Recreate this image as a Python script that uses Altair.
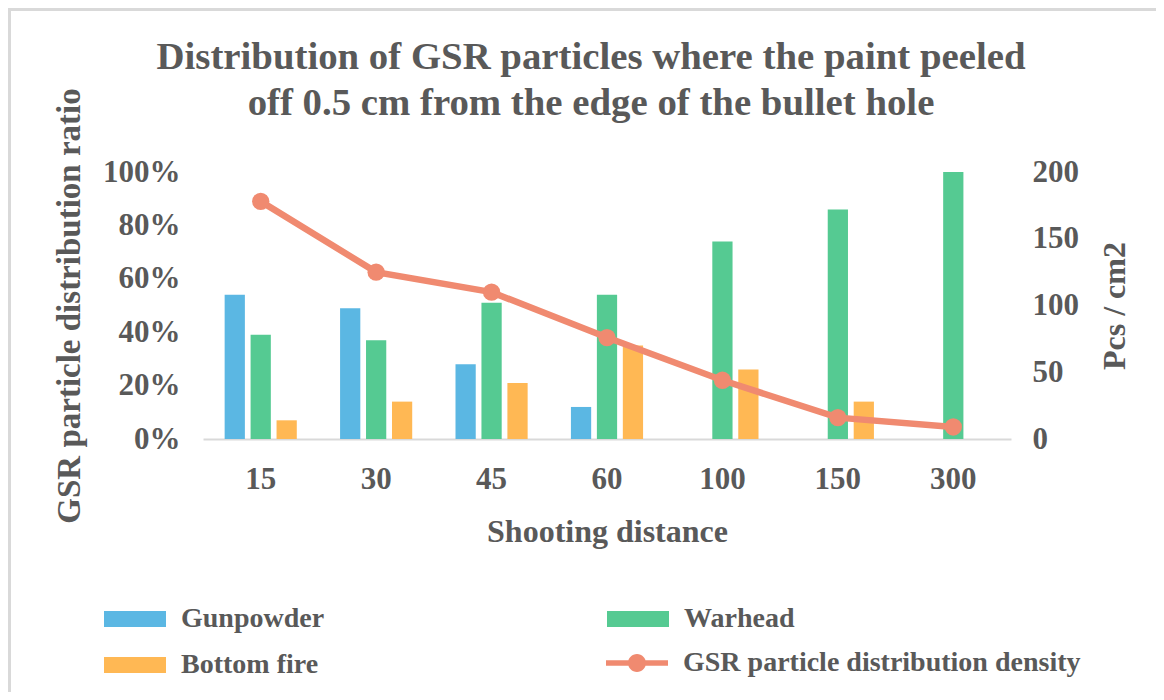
import altair as alt
import pandas as pd

# ---- data ----
distances = ["15", "30", "45", "60", "100", "150", "300"]
gunpowder = [54, 49, 28, 12, 0, 0, 0]
warhead = [39, 37, 51, 54, 74, 86, 100]
bottom_fire = [7, 14, 21, 35, 26, 14, 0]
density = [178, 125, 110, 76, 44, 16, 9]

bar_series = ["Gunpowder", "Warhead", "Bottom fire"]
bar_colors = ["#5BB7E3", "#55CA92", "#FFB854"]
legend_order = ["Gunpowder", "Bottom fire", "Warhead"]   # column-major legend grid
line_series = ["GSR particle distribution density"]
line_colors = ["#F08A70"]

title_lines = ["Distribution of GSR particles where the paint peeled",
               "off 0.5 cm from the edge of the bullet hole"]

# ---- tables ----
rows = []
for name, vals in zip(bar_series, [gunpowder, warhead, bottom_fire]):
    for d, v in zip(distances, vals):
        rows.append({"distance": d, "series": name, "ratio": v / 100})
bar_df = pd.DataFrame(rows)
line_df = pd.DataFrame({"distance": distances, "density": density,
                        "series": line_series[0]})
frame_df = pd.DataFrame({"frame": [0]})

FONT = "Liberation Serif"
TXT = "#595959"

rect_path = "M-1,-0.26H1V0.26H-1Z"
line_path = ("M-1,-0.09H1V0.09H-1Z "
             "M-0.29,0A0.29,0.29 0 1,1 0.29,0A0.29,0.29 0 1,1 -0.29,0Z")

LEG_X, LEG_Y, ROW = -99, 416, 44


def legend(sym, lx, ly):
    return alt.Legend(title=None, orient="none", legendX=lx, legendY=ly, columns=2,
                      columnPadding=282, rowPadding=1, symbolType=sym,
                      symbolSize=3844, symbolStrokeWidth=0, symbolOpacity=1,
                      labelFont=FONT, labelFontSize=28, labelFontWeight="bold",
                      labelColor=TXT, labelOffset=15, labelLimit=700)


x_axis = alt.Axis(labelAngle=0, ticks=False, domainColor="#D9D9D9",
                  domainWidth=2, labelPadding=25, labelFont=FONT, labelFontSize=31,
                  labelFontWeight="bold", labelColor=TXT, titleFont=FONT,
                  titleFontSize=32, titleFontWeight="bold", titleColor=TXT,
                  titlePadding=22)

# light grey frame around the whole chart area (decoration)
frame = alt.Chart(frame_df).mark_rect(
    fill="transparent", stroke="#D9D9D9", strokeWidth=3
).encode(
    x=alt.value(-193.5), x2=alt.value(975), y=alt.value(-162.5), y2=alt.value(540)
)

bars = alt.Chart(bar_df).mark_bar().encode(
    x=alt.X("distance:N", sort=distances, title="Shooting distance",
            scale=alt.Scale(paddingInner=0.375, paddingOuter=0.1875), axis=x_axis),
    xOffset=alt.XOffset("series:N", sort=bar_series,
                        scale=alt.Scale(paddingInner=0.22)),
    y=alt.Y("ratio:Q", scale=alt.Scale(domain=[0, 1]),
            title="GSR particle distribution ratio",
            axis=alt.Axis(orient="left", format=".0%", values=[0, 0.2, 0.4, 0.6, 0.8, 1],
                          grid=False, domain=False, ticks=False,
                          labelPadding=23, labelFont=FONT, labelFontSize=31,
                          labelFontWeight="bold", labelColor=TXT, titleFont=FONT,
                          titleFontSize=33, titleFontWeight="bold", titleColor=TXT,
                          titlePadding=16)),
    color=alt.Color("series:N",
                    scale=alt.Scale(domain=legend_order,
                                    range=[bar_colors[bar_series.index(s)]
                                           for s in legend_order]),
                    legend=legend(rect_path, LEG_X, LEG_Y)),
)

right_axis = alt.Axis(orient="right", values=[0, 50, 100, 150, 200], grid=False,
                      domain=False, ticks=False, labelPadding=21,
                      labelFont=FONT, labelFontSize=31, labelFontWeight="bold",
                      labelColor=TXT, titleFont=FONT, titleFontSize=32,
                      titleFontWeight="bold", titleColor=TXT, titlePadding=21,
                      titleAngle=270, titleBaseline="top")

line_base = alt.Chart(line_df).encode(
    x=alt.X("distance:N", sort=distances, title="Shooting distance", axis=x_axis),
    y=alt.Y("density:Q", scale=alt.Scale(domain=[0, 200]), title="Pcs / cm2",
            axis=right_axis),
)
line = line_base.mark_line(strokeWidth=6.5, color=line_colors[0])
pts = line_base.mark_circle(size=300, opacity=1).encode(
    fill=alt.Fill("series:N", scale=alt.Scale(domain=line_series, range=line_colors),
                  legend=legend(line_path, LEG_X + 502, LEG_Y + ROW)),
)
right = alt.layer(line, pts)

chart = alt.layer(frame, bars, right).resolve_scale(
    y="independent"
).properties(
    width=808, height=267,
    padding={"left": 195, "top": 164, "right": 145, "bottom": 253},
    autosize=alt.AutoSizeParams(type="none"),
    background="white",
    title=alt.Title(title_lines, font=FONT, fontSize=38.8, fontWeight="bold",
                    color=TXT, anchor="middle", dx=-16, lineHeight=46, offset=-115),
).configure_view(strokeWidth=0)

chart.save("out.html", embed_options={"renderer": "svg", "actions": False})
